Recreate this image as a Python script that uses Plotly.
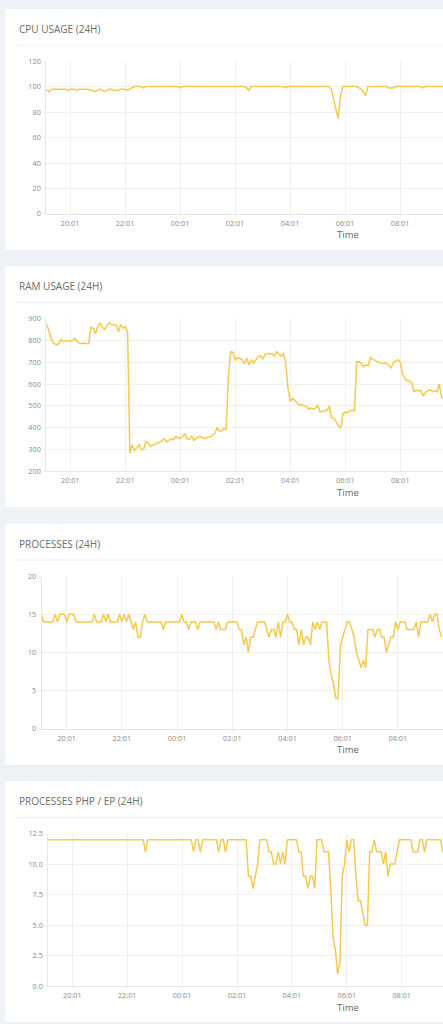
import pandas as pd
import plotly.graph_objects as go

W, H = 443, 1024

# values every 5 minutes starting 19:06 (one row = one hour)
cpu_usage = [
    98, 97, 96, 98, 98, 98, 98, 98, 98, 98, 97, 98,
    98, 98, 97, 98, 98, 98, 98, 98, 97, 97, 96, 97,
    98, 97, 96, 97, 98, 98, 97, 97, 97, 98, 98, 98,
    97, 98, 99, 100, 100, 100, 100, 99, 100, 100, 100, 100,
    100, 100, 100, 100, 100, 100, 100, 100, 100, 100, 100, 99,
    100, 100, 100, 100, 100, 100, 100, 100, 100, 100, 100, 100,
    100, 100, 100, 100, 100, 100, 100, 100, 100, 100, 100, 100,
    100, 100, 100, 100, 99, 97, 100, 100, 100, 100, 100, 100,
    100, 100, 100, 100, 100, 100, 100, 100, 100, 99, 100, 100,
    100, 100, 100, 100, 100, 100, 100, 100, 100, 100, 100, 100,
    100, 100, 100, 100, 100, 98, 91, 82, 75, 92, 100, 100,
    100, 100, 100, 100, 100, 99, 98, 96, 93, 100, 100, 100,
    100, 100, 100, 100, 100, 100, 99, 99, 99, 100, 100, 100,
    100, 100, 100, 100, 100, 100, 100, 100, 100, 99, 100, 100,
    100, 100, 100, 100, 100, 100, 100,
]

ram_usage = [
    882, 865, 830, 797, 785, 780, 785, 805, 795, 800, 797, 797,
    800, 810, 795, 788, 785, 788, 785, 786, 860, 855, 832, 865,
    878, 860, 850, 868, 880, 872, 873, 870, 838, 873, 855, 865,
    840, 283, 322, 295, 310, 322, 300, 300, 338, 330, 315, 320,
    325, 328, 332, 340, 350, 335, 342, 350, 345, 358, 355, 350,
    362, 372, 348, 348, 362, 342, 352, 358, 360, 352, 350, 358,
    358, 365, 372, 400, 385, 385, 398, 390, 640, 748, 745, 710,
    720, 718, 712, 693, 720, 688, 710, 698, 715, 726, 730, 714,
    735, 740, 738, 740, 728, 748, 738, 728, 738, 700, 580, 520,
    535, 525, 512, 502, 508, 500, 500, 485, 490, 485, 490, 505,
    472, 476, 478, 480, 500, 445, 445, 428, 408, 400, 465, 472,
    468, 478, 478, 480, 702, 702, 695, 680, 688, 685, 722, 712,
    710, 700, 700, 695, 698, 695, 685, 675, 700, 705, 712, 700,
    645, 625, 615, 615, 605, 565, 572, 570, 570, 545, 562, 568,
    575, 565, 570, 565, 600, 540, 535,
]

processes = [
    15, 14, 14, 14, 14, 14, 15, 14, 15, 15, 15, 14,
    15, 15, 15, 14, 14, 14, 14, 14, 14, 14, 14, 15,
    14, 14, 14, 15, 14, 15, 14, 14, 14, 14, 15, 14,
    15, 14, 15, 14, 13, 14, 12, 12, 14, 15, 14, 14,
    14, 14, 14, 14, 14, 13, 14, 14, 14, 14, 14, 14,
    14, 15, 14, 14, 13, 14, 14, 14, 13, 14, 14, 14,
    14, 14, 14, 14, 13, 14, 13, 13, 13, 14, 14, 14,
    14, 14, 13, 13, 11, 12, 10, 12, 12, 13, 14, 14,
    14, 14, 13, 12, 13, 13, 12, 14, 12, 14, 14, 15,
    14, 14, 13, 13, 11, 13, 11, 12, 12, 11, 14, 13,
    14, 13, 14, 14, 14, 9, 7, 6, 4, 4, 11, 12,
    13, 14, 14, 13, 12, 10, 9, 8, 9, 8, 13, 13,
    13, 12, 13, 13, 12, 12, 10, 11, 12, 12, 14, 13,
    14, 14, 14, 13, 13, 13, 13, 14, 12, 14, 14, 14,
    14, 15, 14, 15, 15, 13, 12,
]

processes_php = [
    12, 12, 12, 12, 12, 12, 12, 12, 12, 12, 12, 12,
    12, 12, 12, 12, 12, 12, 12, 12, 12, 12, 12, 12,
    12, 12, 12, 12, 12, 12, 12, 12, 12, 12, 12, 12,
    12, 12, 12, 12, 12, 12, 12, 11, 12, 12, 12, 12,
    12, 12, 12, 12, 12, 12, 12, 12, 12, 12, 12, 12,
    12, 12, 12, 12, 11, 12, 12, 11, 12, 12, 12, 12,
    12, 12, 12, 11, 12, 12, 11, 12, 12, 12, 12, 12,
    12, 12, 12, 12, 9, 9, 8, 9, 10, 12, 12, 12,
    12, 11, 11, 10, 10, 11, 10, 11, 10, 12, 12, 12,
    12, 12, 11, 11, 9, 9, 8, 9, 9, 8, 12, 12,
    12, 11, 11, 11, 8, 4, 3, 1, 2, 9, 10, 12,
    11, 12, 12, 9, 7, 7, 6, 5, 5, 11, 11, 12,
    11, 11, 11, 10, 11, 9, 10, 10, 10, 11, 12, 12,
    12, 12, 12, 12, 11, 11, 11, 12, 12, 11, 12, 12,
    12, 12, 12, 12, 12, 11, 11,
]

panel_titles = ["CPU USAGE (24H)", "RAM USAGE (24H)", "PROCESSES (24H)", "PROCESSES PHP / EP (24H)"]
series = [cpu_usage, ram_usage, processes, processes_php]
y_ranges = [[0, 120], [200, 900], [0, 20], [0, 12.5]]
y_dticks = [20, 100, 5, 2.5]
y_formats = ["", "", "", ".1f"]

times = pd.date_range("2024-01-01 19:06", periods=len(cpu_usage), freq="5min")
first_tick = pd.Timestamp("2024-01-01 20:01")

# layout of the cards (pixels)
card_tops = [4, 264, 524, 784]
plot_left = [46.3, 46.3, 41.7, 48.3]
first_tick_px = [70.0, 70.3, 66.7, 72.3]
px_per_hour = [27.5, 27.5, 27.6, 27.45]

LINE = "#f5c94f"
GRID = "#f0f0f0"


def px_y(y):
    return 1 - y / H


fig = go.Figure()
shapes, annotations = [], []
layout = {}

for i in range(4):
    n = "" if i == 0 else str(i + 1)
    top = card_tops[i]
    fig.add_trace(go.Scatter(x=times, y=series[i], mode="lines",
                             line=dict(color=LINE, width=1.5),
                             xaxis="x" + n, yaxis="y" + n, showlegend=False))

    start = first_tick - pd.Timedelta(hours=(first_tick_px[i] - plot_left[i]) / px_per_hour[i])
    end = first_tick + pd.Timedelta(hours=(W - first_tick_px[i]) / px_per_hour[i])

    layout["xaxis" + n] = dict(
        domain=[plot_left[i] / W, 1], anchor="y" + n, type="date",
        range=[start, end], tick0=first_tick, dtick=2 * 3600 * 1000, tickformat="%H:%M",
        showgrid=True, gridcolor=GRID, gridwidth=1, zeroline=False,
        showline=True, linecolor="#e6e6e6", linewidth=1,
        ticks="outside", ticklen=2, tickcolor=GRID,
        tickfont=dict(size=7.3, color="#8a8a8a"), fixedrange=True,
    )
    layout["yaxis" + n] = dict(
        domain=[px_y(top + 207), px_y(top + 52.7)], anchor="x" + n,
        range=y_ranges[i], dtick=y_dticks[i], tickformat=y_formats[i],
        showgrid=True, gridcolor=GRID, gridwidth=1, zeroline=False,
        showline=True, linecolor="#e6e6e6", linewidth=1,
        ticks="outside", ticklen=3, tickcolor=GRID,
        tickfont=dict(size=7.3, color="#8a8a8a"), fixedrange=True,
    )

    # card background and the line under its title
    shapes.append(dict(type="rect", xref="paper", yref="paper", layer="below",
                       x0=5 / W, x1=1.05, y0=px_y(top + 243), y1=px_y(top),
                       fillcolor="white", line=dict(width=0)))
    shapes.append(dict(type="line", xref="paper", yref="paper", layer="below",
                       x0=17 / W, x1=1.05, y0=px_y(top + 36.5), y1=px_y(top + 36.5),
                       line=dict(color="#eeeeee", width=1)))

    annotations.append(dict(text=panel_titles[i], xref="paper", yref="paper",
                            x=17 / W, y=px_y(top + 20), xanchor="left", yanchor="middle",
                            showarrow=False, font=dict(size=10, color="#6b6b6b")))
    annotations.append(dict(text="Time", xref="paper", yref="paper",
                            x=348 / W, y=px_y(top + 228), xanchor="center", yanchor="middle",
                            showarrow=False, font=dict(size=9.5, color="#666666")))

fig.update_layout(
    width=W, height=H,
    margin=dict(l=0, r=0, t=0, b=0),
    paper_bgcolor="#eef1f6", plot_bgcolor="white",
    font=dict(family="Open Sans, Arial, sans-serif"),
    shapes=shapes, annotations=annotations,
    showlegend=False, hovermode=False,
    **layout,
)

# page margin off so the figure fills the window exactly
fig.write_html("out.html", config={"displayModeBar": False},
               post_script="document.body.style.margin='0';")
